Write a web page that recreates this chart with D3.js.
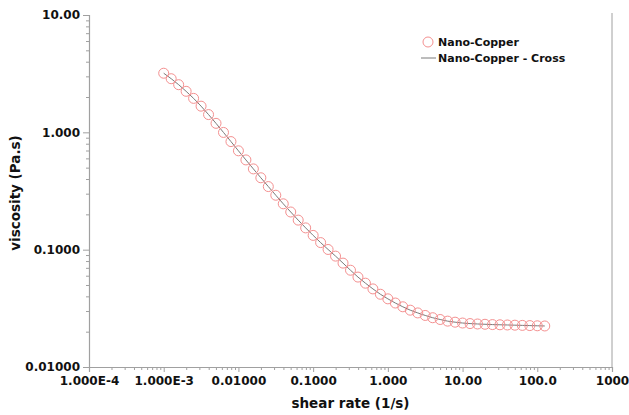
<!DOCTYPE html>
<html>
<head>
<meta charset="utf-8">
<script src="https://cdn.jsdelivr.net/npm/d3@7/dist/d3.min.js"></script>
<style>
  html, body { margin: 0; padding: 0; background: #fff; }
  svg { display: block; }
  text { font-family: "DejaVu Sans", Verdana, sans-serif; font-weight: bold; fill: #111; }
</style>
</head>
<body>
<svg id="chart" width="629" height="415"></svg>
<script>
// ---- data ----
const shearRate = [
  0.001, 0.001259, 0.001585, 0.001995, 0.002512, 0.003162, 0.003981, 0.005012, 0.006310, 0.007943,
  0.01, 0.01259, 0.01585, 0.01995, 0.02512, 0.03162, 0.03981, 0.05012, 0.06310, 0.07943,
  0.1, 0.1259, 0.1585, 0.1995, 0.2512, 0.3162, 0.3981, 0.5012, 0.6310, 0.7943,
  1, 1.259, 1.585, 1.995, 2.512, 3.162, 3.981, 5.012, 6.310, 7.943,
  10, 12.59, 15.85, 19.95, 25.12, 31.62, 39.81, 50.12, 63.10, 79.43,
  100, 125.9
];
const viscosity = [
  3.19, 2.864, 2.547, 2.237, 1.947, 1.671, 1.417, 1.193, 0.998, 0.834,
  0.696, 0.582, 0.488, 0.410, 0.345, 0.291, 0.246, 0.2094, 0.1786, 0.1533,
  0.1323, 0.1149, 0.1004, 0.0881, 0.0768, 0.0668, 0.0584, 0.0518, 0.0463, 0.0417,
  0.0381, 0.0351, 0.0326, 0.0305, 0.0289, 0.0275, 0.0263, 0.0254, 0.0246, 0.0241,
  0.0237, 0.02345, 0.02326, 0.02313, 0.02299, 0.0229, 0.02281, 0.02272, 0.02263, 0.02254,
  0.02245, 0.02237
];
const crossFit = [
  3.19, 2.864, 2.547, 2.237, 1.947, 1.671, 1.417, 1.193, 0.998, 0.834,
  0.696, 0.582, 0.488, 0.410, 0.345, 0.291, 0.246, 0.2094, 0.1786, 0.1533,
  0.1323, 0.1149, 0.1004, 0.0881, 0.0768, 0.0668, 0.0584, 0.0518, 0.0463, 0.0417,
  0.0381, 0.0351, 0.0326, 0.0305, 0.0289, 0.0275, 0.0263, 0.0254, 0.0246, 0.0241,
  0.0237, 0.02345, 0.02326, 0.02313, 0.02299, 0.0229, 0.02281, 0.02272, 0.02263, 0.02254,
  0.02245, 0.02237
];
const xTickValues = [1e-4, 1e-3, 1e-2, 1e-1, 1, 10, 100, 1000];
const xTickLabels = ["1.000E-4", "1.000E-3", "0.01000", "0.1000", "1.000", "10.00", "100.0", "1000"];
const yTickValues = [0.01, 0.1, 1, 10];
const yTickLabels = ["0.01000", "0.1000", "1.000", "10.00"];
const seriesNames = ["Nano-Copper", "Nano-Copper - Cross"];

// ---- layout ----
const svg = d3.select("#chart");
const L = 89, R = 612, T = 15, B = 367;
const axisColor = "#a0a0a0";

const x = d3.scaleLog().domain([1e-4, 1000]).range([L, R]);
const y = d3.scaleLog().domain([0.01, 10]).range([B, T]);

function minorTicks(lo, hi) {
  const out = [];
  for (let e = Math.log10(lo); e < Math.log10(hi); e++) {
    for (let k = 2; k <= 9; k++) out.push(k * Math.pow(10, e));
  }
  return out;
}

// right border
svg.append("line").attr("x1", R).attr("x2", R).attr("y1", T - 2).attr("y2", B)
  .attr("stroke", axisColor).attr("stroke-width", 1);

// x axis
const gx = svg.append("g").attr("transform", `translate(0,${B})`);
gx.call(d3.axisBottom(x).tickValues(xTickValues).tickSize(5).tickPadding(4)
  .tickFormat((d, i) => xTickLabels[i]));
const gxm = svg.append("g").attr("transform", `translate(0,${B})`);
gxm.call(d3.axisBottom(x).tickValues(minorTicks(1e-4, 1000)).tickSize(3).tickFormat(""));
gxm.select(".domain").remove();

// y axis
const gy = svg.append("g").attr("transform", `translate(${L},0)`);
gy.call(d3.axisLeft(y).tickValues(yTickValues).tickSize(6).tickPadding(3)
  .tickFormat((d, i) => yTickLabels[i]));
const gym = svg.append("g").attr("transform", `translate(${L},0)`);
gym.call(d3.axisLeft(y).tickValues(minorTicks(0.01, 10)).tickSize(3).tickFormat(""));
gym.select(".domain").remove();

svg.selectAll(".domain").attr("stroke", axisColor).attr("stroke-width", 1.2);
svg.selectAll(".tick line").attr("stroke", axisColor);
svg.selectAll(".tick text").style("font-family", "'DejaVu Sans', Verdana, sans-serif")
  .style("font-weight", "bold").style("font-size", "12px").attr("fill", "#111");

// axis titles
svg.append("text").attr("x", (L + R) / 2).attr("y", 408).attr("text-anchor", "middle")
  .style("font-size", "13.5px").text("shear rate (1/s)");
svg.append("text").attr("transform", `translate(20,${(T + B) / 2 + 2}) rotate(-90)`)
  .attr("text-anchor", "middle").style("font-size", "13.5px").text("viscosity (Pa.s)");

// fit line
const pts = shearRate.map((s, i) => ({ s, v: viscosity[i], f: crossFit[i] }));
svg.append("path").datum(pts)
  .attr("fill", "none").attr("stroke", "#7a7a7a").attr("stroke-width", 1)
  .attr("d", d3.line().x(d => x(d.s)).y(d => y(d.f)));

// data circles
svg.append("g").selectAll("circle").data(pts).join("circle")
  .attr("cx", d => x(d.s)).attr("cy", d => y(d.v)).attr("r", 5)
  .attr("fill", "none").attr("stroke", "#f49090").attr("stroke-width", 1);

// legend
const lg = svg.append("g");
lg.append("circle").attr("cx", 428).attr("cy", 42).attr("r", 5)
  .attr("fill", "none").attr("stroke", "#f49090").attr("stroke-width", 1);
lg.append("text").attr("x", 438).attr("y", 46).style("font-size", "11px").text(seriesNames[0]);
lg.append("line").attr("x1", 421).attr("x2", 436).attr("y1", 58).attr("y2", 58)
  .attr("stroke", "#7a7a7a").attr("stroke-width", 1);
lg.append("text").attr("x", 438).attr("y", 62).style("font-size", "11px").text(seriesNames[1]);
</script>
</body>
</html>
